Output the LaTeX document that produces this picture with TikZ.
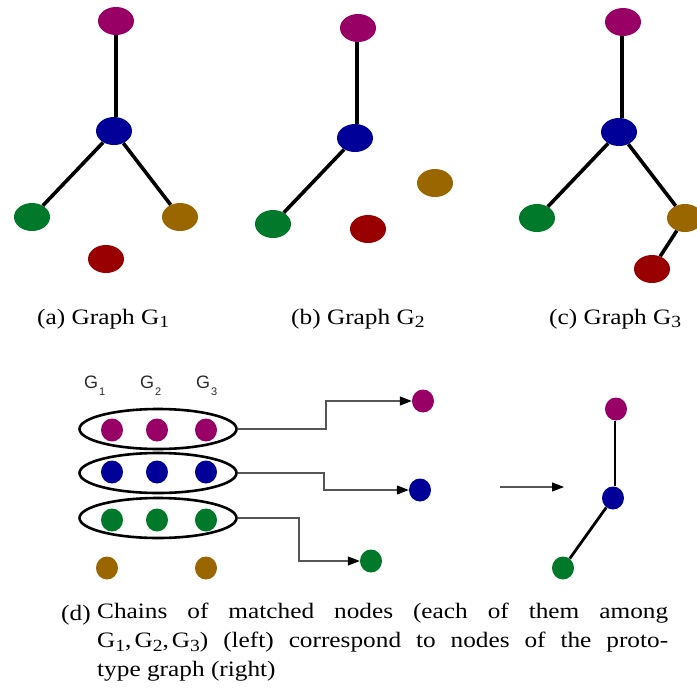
\documentclass[tikz,border=0pt]{standalone}
\usepackage{fontspec}
\setmainfont{Liberation Serif}[FakeStretch=1.15]
\newfontfamily\lblfont{Liberation Sans}
\usetikzlibrary{shapes.geometric,arrows.meta}
\definecolor{cmag}{HTML}{990066}
\definecolor{cblu}{HTML}{000099}
\definecolor{cgrn}{HTML}{007A2A}
\definecolor{cgld}{HTML}{996600}
\definecolor{cred}{HTML}{990000}
\definecolor{cgray}{HTML}{555555}
\definecolor{ctext}{HTML}{2A2A2A}
\newcommand{\gsb}[1]{\raisebox{-0.18em}{\fontsize{17}{17}\selectfont #1}}
\newcommand{\lsb}[1]{\raisebox{-7pt}{\fontsize{11}{11}\selectfont #1}}
\tikzset{
  big/.style={ellipse, inner sep=0pt, minimum width=36pt, minimum height=28pt, fill=#1},
  dot/.style={ellipse, inner sep=0pt, minimum width=22pt, minimum height=23pt, fill=#1},
  tedge/.style={line width=3.6pt, black},
  pedge/.style={line width=2.8pt, black},
  chain/.style={ellipse, draw=black, line width=2.6pt, minimum width=157pt, minimum height=40pt, inner sep=0pt},
  conn/.style={draw=cgray, line width=1.1pt, -{Triangle[length=12pt,width=9pt,fill=black,color=black]}},
  captext/.style={anchor=base west, inner sep=0pt, font=\fontsize{22}{29}\selectfont},
  glabel/.style={anchor=base west, inner sep=0pt, text=ctext, font=\lblfont\fontsize{18}{18}\selectfont}
}
\begin{document}
\begin{tikzpicture}[x=1pt,y=-1pt]
\useasboundingbox (0,0) rectangle (697,689);
\clip (0,0) rectangle (697,689);
% ---- Graph G1
\node[big=cmag] (a1m) at (116,21) {};
\node[big=cblu] (a1b) at (114,131) {};
\node[big=cgrn] (a1g) at (32,217) {};
\node[big=cgld] (a1o) at (180,217) {};
\node[big=cred] (a1r) at (106,259) {};
\draw[tedge] (a1m.south -| 116,0) -- (a1b.north -| 116,0);
\draw[tedge] (a1b) -- (a1g);
\draw[tedge] (a1b) -- (a1o);
% ---- Graph G2
\node[big=cmag] (a2m) at (358,28) {};
\node[big=cblu] (a2b) at (355,138) {};
\node[big=cgrn] (a2g) at (273,224) {};
\node[big=cgld] (a2o) at (435,183) {};
\node[big=cred] (a2r) at (368,229) {};
\draw[tedge] (a2m.south -| 357,0) -- (a2b.north -| 357,0);
\draw[tedge] (a2b) -- (a2g);
% ---- Graph G3
\node[big=cmag] (a3m) at (623,22) {};
\node[big=cblu] (a3b) at (619,132) {};
\node[big=cgrn] (a3g) at (537,218) {};
\node[big=cgld] (a3o) at (685,218) {};
\node[big=cred] (a3r) at (652,269) {};
\draw[tedge] (a3m.south -| 622,0) -- (a3b.north -| 622,0);
\draw[tedge] (a3b) -- (a3g);
\draw[tedge] (a3b) -- (a3o);
\draw[tedge] (a3o) -- (a3r);
% ---- sub-captions
\node[captext] (capa) at (37,324) {(a) Graph G\gsb{1}};
\node[captext] (capb) at (291,324) {(b) Graph G\gsb{2}};
\node[captext] (capc) at (549,324) {(c) Graph G\gsb{3}};
% ---- chain labels
\node[glabel] (l1) at (84,388) {G\kern1pt\lsb{1}};
\node[glabel] (l2) at (140,388) {G\kern1pt\lsb{2}};
\node[glabel] (l3) at (196,388) {G\kern1pt\lsb{3}};
% ---- chains
\node[chain] (r1) at (158,429) {};
\node[chain] (r2) at (158,473) {};
\node[chain] (r3) at (158,518) {};
\node[dot=cmag] (m1) at (112,430) {};
\node[dot=cmag] (m2) at (157,430) {};
\node[dot=cmag] (m3) at (206,430) {};
\node[dot=cblu] (b1) at (112,472) {};
\node[dot=cblu] (b2) at (157,472) {};
\node[dot=cblu] (b3) at (206,472) {};
\node[dot=cgrn] (g1) at (112,520) {};
\node[dot=cgrn] (g2) at (157,520) {};
\node[dot=cgrn] (g3) at (206,520) {};
\node[dot=cgld] (o1) at (107,568) {};
\node[dot=cgld] (o3) at (206,568) {};
% ---- matched nodes
\node[dot=cmag] (pm) at (423,401) {};
\node[dot=cblu] (pb) at (420,490) {};
\node[dot=cgrn] (pg) at (371,561) {};
\coordinate (k1) at (326,429);
\coordinate (k2) at (324,473);
\coordinate (k3) at (299,518);
\draw[conn] (r1.east) -- (k1) |- (pm);
\draw[conn] (r2.east) -- (k2) |- (pb);
\draw[conn] (r3.east) -- (k3) |- (pg);
% ---- middle arrow
\coordinate (ma) at (500,487);
\coordinate (mb) at (564,487);
\draw[conn] (ma) -- (mb);
% ---- prototype
\node[dot=cmag] (qm) at (616,409) {};
\node[dot=cblu] (qb) at (613,498) {};
\node[dot=cgrn] (qg) at (563,568) {};
\draw[pedge] (qm.south -| 615,0) -- (qb.north -| 615,0);
\draw[pedge] (qb) -- (qg);
% ---- caption (d)
\node[captext] (capd) at (61,620) {(d)};
\node[anchor=north west, inner sep=0pt, text width=571pt, align=justify, font=\fontsize{22}{29}\selectfont] (capdt) at (97,603) {Chains of matched nodes (each of them among\linebreak G\gsb{1},\kern3pt G\gsb{2},\kern3pt G\gsb{3}) (left) correspond to nodes of the proto-\linebreak type graph (right)};
\end{tikzpicture}
\end{document}
